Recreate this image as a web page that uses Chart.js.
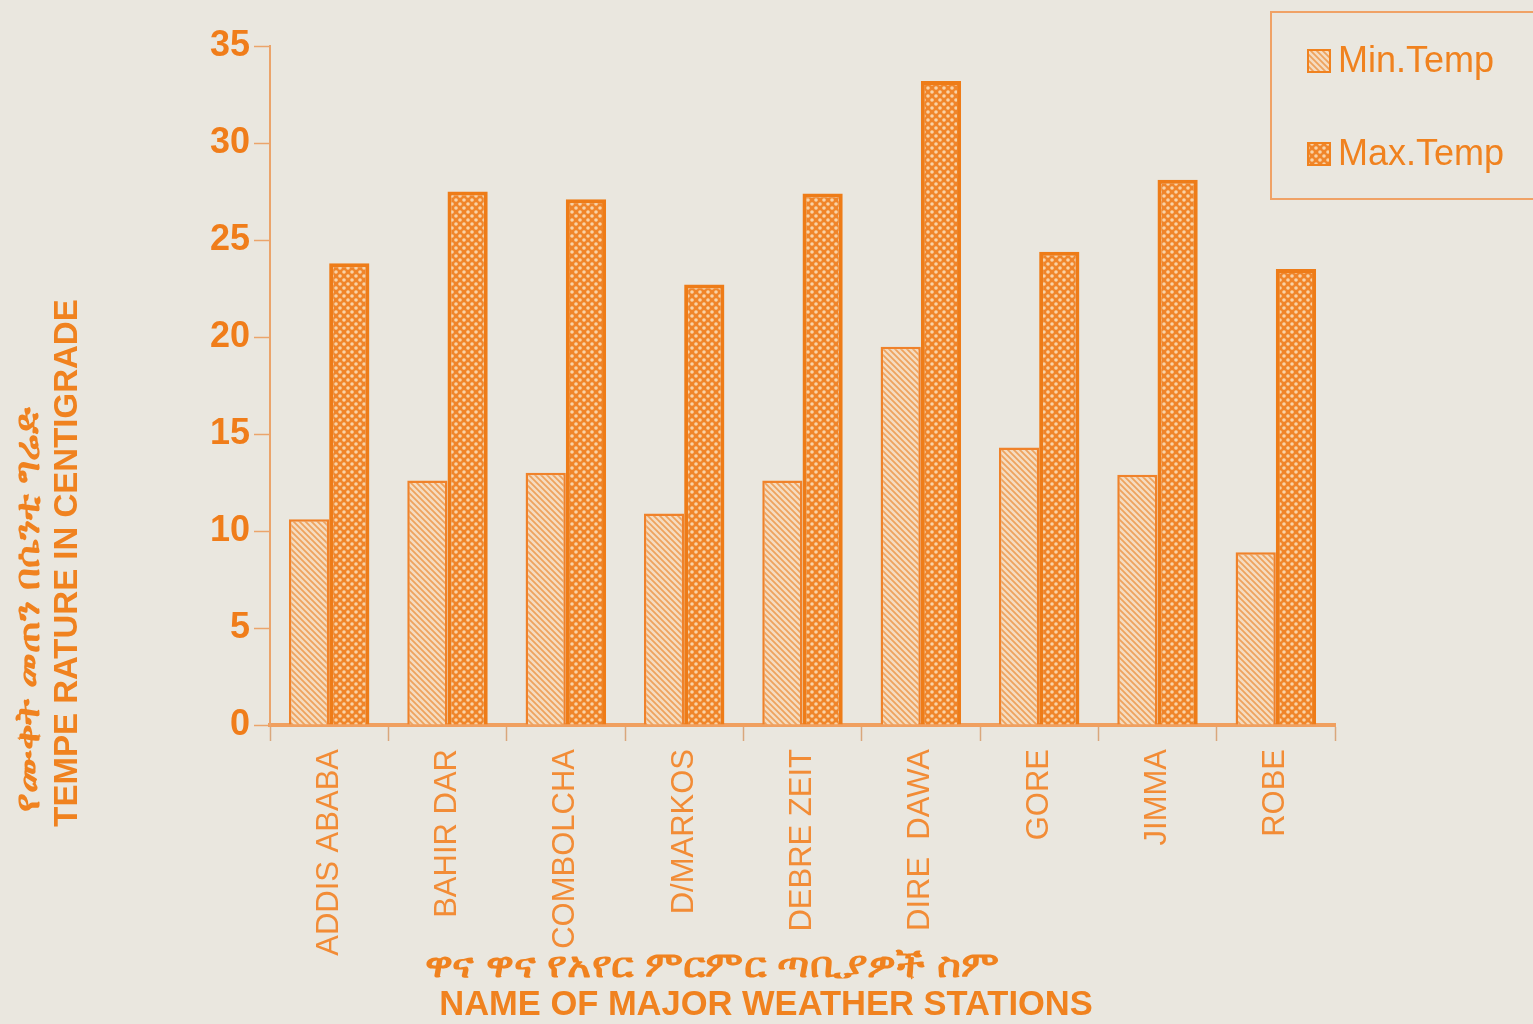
<!DOCTYPE html>
<html>
<head>
<meta charset="utf-8">
<script src="https://cdn.jsdelivr.net/npm/chart.js@4"></script>
<style>
  body { margin: 0; background: #eae7df; }
  canvas { display: block; }
</style>
</head>
<body>
<canvas id="chart" width="1533" height="1024"></canvas>
<script>
// stations and temperatures
var stations = ["ADDIS ABABA", "BAHIR DAR", "COMBOLCHA", "D/MARKOS", "DEBRE ZEIT",
                "DIRE  DAWA", "GORE", "JIMMA", "ROBE"];
var minTemp  = [10.6, 12.6, 13.0, 10.9, 12.6, 19.5, 14.3, 12.9, 8.9];
var maxTemp  = [23.8, 27.5, 27.1, 22.7, 27.4, 33.2, 24.4, 28.1, 23.5];

var seriesNames = ["Min.Temp", "Max.Temp"];

// y axis
var ymin  = 0;
var ymax  = 35;
var ystep = 5;

// axis titles
var yTitle = ["የሙቀት መጠን በሴንቲ ግሬድ", "TEMPE RATURE IN CENTIGRADE"];
var xTitle = ["ዋና ዋና የአየር ምርምር ጣቢያዎች ስም", "NAME OF MAJOR WEATHER STATIONS"];

var orange  = "#f0821f";
var bgcolor = "#eae7df";
var font    = "'Liberation Sans', Arial, sans-serif";

// hatch for the min bars: light fill with "\" lines
function makeStripes() {
  var c = document.createElement("canvas");
  c.width = 6; c.height = 6;
  var g = c.getContext("2d");
  g.fillStyle = "#f5dcc1";
  g.fillRect(0, 0, 6, 6);
  g.strokeStyle = "#eea35e";
  g.lineWidth = 1.8;
  g.beginPath();
  g.moveTo(-1, -1); g.lineTo(7, 7);
  g.moveTo(-4, 2); g.lineTo(4, 10);
  g.moveTo(2, -4); g.lineTo(10, 4);
  g.stroke();
  return g.createPattern(c, "repeat");
}

// lattice for the max bars: orange with light dots
function makeDots() {
  var c = document.createElement("canvas");
  c.width = 8; c.height = 8;
  var g = c.getContext("2d");
  g.fillStyle = "#f0852a";
  g.fillRect(0, 0, 8, 8);
  g.fillStyle = "#f8d3a8";
  [[0, 0], [8, 0], [0, 8], [8, 8], [4, 4]].forEach(function (p) {
    g.beginPath();
    g.arc(p[0], p[1], 1.8, 0, Math.PI * 2);
    g.fill();
  });
  return g.createPattern(c, "repeat");
}

var minFill = makeStripes();
var maxFill = makeDots();

// Ethiopic fallback font is narrow: stretch the line sideways to the wanted width
function stretchText(g, text, width, x, y) {
  g.save();
  g.font = "bold 35px " + font;
  var w = g.measureText(text).width;
  g.translate(x, y);
  g.scale(width / w, 1);
  g.fillText(text, 0, 0);
  g.restore();
}

var bgPlugin = {
  id: "bg",
  beforeDraw: function (chart) {
    var g = chart.ctx;
    g.save();
    g.fillStyle = bgcolor;
    g.fillRect(0, 0, chart.width, chart.height);
    g.restore();
  }
};

var textPlugin = {
  id: "texts",
  afterDraw: function (chart) {
    var g = chart.ctx;
    g.save();
    g.fillStyle = orange;
    g.textAlign = "center";
    g.textBaseline = "middle";

    // y title, two rotated lines
    g.save();
    g.translate(29, 610);
    g.rotate(-Math.PI / 2);
    stretchText(g, yTitle[0], 404, 0, 0);
    g.restore();
    g.save();
    g.translate(68, 563);
    g.rotate(-Math.PI / 2);
    g.font = "bold 33px " + font;
    g.fillText(yTitle[1], 0, 0);
    g.restore();

    // x title
    stretchText(g, xTitle[0], 575, 712, 967);
    g.font = "bold 34.5px " + font;
    g.fillText(xTitle[1], 766, 1005);

    // legend box
    g.strokeStyle = "#f0a266";
    g.lineWidth = 2;
    g.strokeRect(1271, 12, 280, 187);
    var fills = [minFill, maxFill];
    var ys = [61, 154];
    g.textAlign = "left";
    g.font = "36px " + font;
    for (var i = 0; i < 2; i++) {
      g.fillStyle = fills[i];
      g.fillRect(1308, ys[i] - 11, 22, 22);
      g.strokeStyle = orange;
      g.lineWidth = 2;
      g.strokeRect(1308, ys[i] - 11, 22, 22);
      g.fillStyle = orange;
      g.fillText(seriesNames[i], 1338, ys[i] + 1);
    }
    g.restore();
  }
};

var ctx = document.getElementById("chart").getContext("2d");

var chart = new Chart(ctx, {
  type: "bar",
  data: {
    labels: stations,
    datasets: [
      {
        label: seriesNames[0],
        data: minTemp,
        backgroundColor: minFill,
        borderColor: "#f0822a",
        borderWidth: 2.5,
        borderSkipped: "bottom"
      },
      {
        label: seriesNames[1],
        data: maxTemp,
        backgroundColor: maxFill,
        borderColor: "#ee7c18",
        borderWidth: 4,
        borderSkipped: "bottom"
      }
    ]
  },
  options: {
    responsive: false,
    animation: false,
    layout: { padding: { top: 46, right: 198, left: 0, bottom: 0 } },
    datasets: { bar: { categoryPercentage: 0.68, barPercentage: 1.0 } },
    plugins: {
      legend: { display: false },
      title: { display: false },
      tooltip: { enabled: false }
    },
    scales: {
      x: {
        offset: true,
        afterFit: function (s) { s.height = 1024 - 46 - 679; },
        border: { display: true, color: "#f0a060", width: 4 },
        grid: {
          display: true,
          offset: true,
          drawOnChartArea: false,
          tickLength: 16,
          tickColor: "#d9a77c",
          tickWidth: 1.5
        },
        ticks: {
          autoSkip: false,
          minRotation: 90,
          maxRotation: 90,
          padding: 8,
          color: "#f28c36",
          font: { family: font, size: 31 }
        }
      },
      y: {
        min: ymin,
        max: ymax,
        afterFit: function (s) { s.width = 270; },
        border: { display: true, color: "#eba46b", width: 2 },
        grid: {
          display: true,
          drawOnChartArea: false,
          tickLength: 16,
          tickColor: "#eba46b",
          tickWidth: 1.5
        },
        ticks: {
          stepSize: ystep,
          padding: 4,
          color: "#f07d1a",
          font: { family: font, size: 36, weight: "bold" }
        }
      }
    }
  },
  plugins: [bgPlugin, textPlugin]
});
</script>
</body>
</html>
